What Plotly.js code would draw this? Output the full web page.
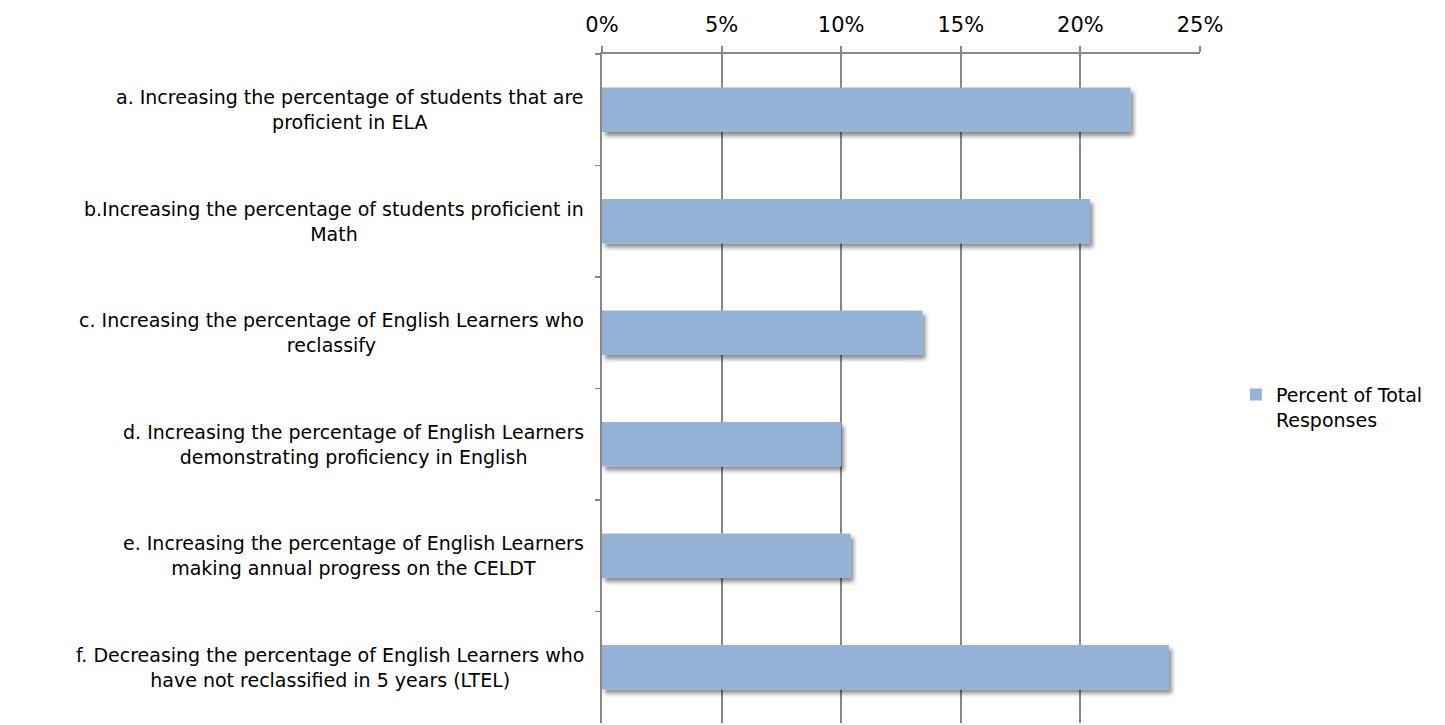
<!DOCTYPE html>
<html><head><meta charset="utf-8">
<script src="https://cdn.plot.ly/plotly-3.0.1.min.js"></script>
<style>html,body{margin:0;padding:0;background:#fff}#chart{width:1445px;height:725px}</style>
</head><body>
<svg width="1" height="1" style="position:absolute;left:0;top:0"><defs>
<filter id="barShadow" x="-10%" y="-30%" width="130%" height="180%">
<feDropShadow dx="3" dy="4" stdDeviation="2" flood-color="#000" flood-opacity="0.45"/>
</filter></defs></svg>
<div id="chart"></div>
<script>
const categories = ["a", "b", "c", "d", "e", "f"];
const categoryLabels = [
  "a. Increasing the percentage of students that are<br>proficient in ELA",
  "b.Increasing the percentage of students proficient in<br>Math",
  "c. Increasing the percentage of English Learners who<br>reclassify",
  "d. Increasing the percentage of English Learners<br>demonstrating proficiency in English",
  "e. Increasing the percentage of English Learners<br>making annual progress on the CELDT",
  "f. Decreasing the percentage of English Learners who<br>have not reclassified in 5 years (LTEL)"
];
const percentValues = [22.1, 20.4, 13.4, 10.0, 10.4, 23.7];
const seriesName = "Percent of Total<br>Responses";
const xTickVals = [0, 5, 10, 15, 20, 25];
const xTickLabels = ["0%", "5%", "10%", "15%", "20%", "25%"];

const FONT = "'DejaVu Sans', sans-serif";
const GRID = "#878787";

const trace = {
  type: "bar", orientation: "h",
  x: percentValues, y: categories,
  name: seriesName,
  marker: {color: "#95B3D7"},
  width: 0.4,
  hoverinfo: "x+y"
};

const annotations = categories.map((c, i) => ({
  xref: "paper", yref: "y", x: -0.027, y: c,
  xanchor: "right", yanchor: "middle", align: "center",
  text: categoryLabels[i], showarrow: false,
  font: {family: FONT, size: 19, color: "#000"}
}));

const layout = {
  width: 1445, height: 725,
  margin: {l: 602, r: 245, t: 54, b: 2},
  paper_bgcolor: "#fff", plot_bgcolor: "#fff",
  showlegend: true,
  legend: {x: 1.06, y: 0.472, xanchor: "left", yanchor: "middle", valign: "top",
    font: {family: FONT, size: 19, color: "#000"}},
  xaxis: {
    side: "top", range: [0, 25], tickvals: xTickVals, ticktext: xTickLabels,
    showgrid: true, gridcolor: GRID, gridwidth: 2,
    showline: true, linecolor: GRID, linewidth: 2,
    ticks: "outside", ticklen: 6, tickcolor: GRID, tickwidth: 2,
    ticklabelstandoff: 6,
    tickfont: {family: FONT, size: 21, color: "#000"},
    zeroline: false, fixedrange: true
  },
  yaxis: {
    type: "category", autorange: "reversed",
    showticklabels: false, showgrid: false,
    showline: true, linecolor: GRID, linewidth: 2,
    ticks: "outside", tickson: "boundaries", ticklen: 5, tickcolor: GRID, tickwidth: 1.5,
    fixedrange: true
  },
  annotations: annotations,
  bargap: 0.6
};

Plotly.newPlot("chart", [trace], layout, {displayModeBar: false, staticPlot: true}).then(() => {
  document.querySelectorAll("#chart .trace.bars .point path").forEach(p => {
    p.setAttribute("filter", "url(#barShadow)");
  });
});
</script>
</body></html>
